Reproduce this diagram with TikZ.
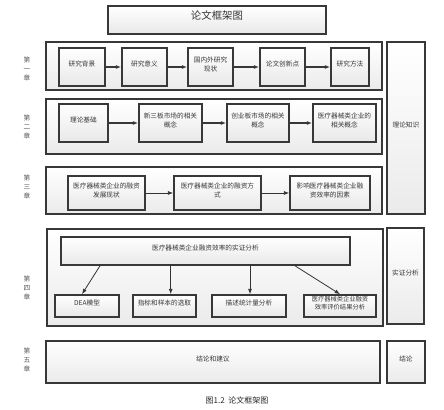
\documentclass[tikz,border=0pt]{standalone}
\usepackage{fontspec}
\newfontfamily\cjk{Noto Sans CJK SC}
\usetikzlibrary{fit,shadows,arrows.meta}
\begin{document}
\begin{tikzpicture}[x=0.75pt,y=-0.75pt,
  box/.style={draw=black!78, line width=1.2pt, top color=white, bottom color=black!9,
    drop shadow={shadow xshift=0.8pt,shadow yshift=-0.8pt,opacity=0.25},
    inner sep=0pt, align=center, font=\cjk\fontsize{5}{7}\selectfont, text=black!78},
  outer/.style={box, line width=1.6pt, top color=white, bottom color=black!8},
  tarrow/.style={-{Latex[length=4pt,width=3pt]}, line width=1.5pt, draw=black!78},
  narrow/.style={-{Latex[length=4pt,width=3pt]}, line width=0.6pt, draw=black!80},
  chap/.style={font=\cjk\fontsize{5}{6.5}\selectfont, text=black!65, align=center, inner sep=0pt}]
\useasboundingbox (0,0) rectangle (444,410);

% title
\node[box, font=\cjk\fontsize{7.8}{9}\selectfont, text=black!80, fit={(108,6)(326,34)}] (title) {论文框架图};

% right side boxes
\node[outer, line width=1.3pt, fit={(387,42)(425,214)}] (rk) {理论知识};
\node[outer, line width=1.3pt, fit={(387,228)(424,324)}] (rs) {实证分析};
\node[outer, line width=1.3pt, fit={(387,341)(425,383)}] (rj) {结论};

% chapter 1
\node[outer, fit={(46,42)(382,90)}] (c1) {};
\node[box, fit={(59,48)(105,86)}] (a1) {研究背景};
\node[box, fit={(122,48)(167,86)}] (a2) {研究意义};
\node[box, fit={(188,48)(233,86)}] (a3) {国内外研究\\现状};
\node[box, fit={(260,48)(305,86)}] (a4) {论文创新点};
\node[box, fit={(331,48)(369,86)}] (a5) {研究方法};
\draw[tarrow] (a1) -- (a2);
\draw[tarrow] (a2) -- (a3);
\draw[tarrow] (a3) -- (a4);
\draw[tarrow] (a4) -- (a5);

% chapter 2
\node[outer, fit={(46,99)(382,154)}] (c2) {};
\node[box, fit={(59,104)(108,142)}] (b1) {理论基础};
\node[box, fit={(139,104)(202,142)}] (b2) {新三板市场的相关\\概念};
\node[box, fit={(227,104)(289,142)}] (b3) {创业板市场的相关\\概念};
\node[box, fit={(313,104)(376,142)}] (b4) {医疗器械类企业的\\相关概念};
\draw[tarrow] (b1) -- (b2);
\draw[tarrow] (b2) -- (b3);
\draw[tarrow] (b3) -- (b4);

% chapter 3
\node[outer, fit={(46,167)(382,214)}] (c3) {};
\node[box, fit={(68,176)(145,210)}] (d1) {医疗器械类企业的融资\\发展现状};
\node[box, fit={(174,176)(261,210)}] (d2) {医疗器械类企业的融资方\\式};
\node[box, fit={(290,176)(370,210)}] (d3) {影响医疗器械类企业融\\资效率的因素};
\draw[narrow] (d1) -- (d2);
\draw[narrow] (d2) -- (d3);

% chapter 4
\node[outer, fit={(47,229)(383,326)}] (c4) {};
\node[box, fit={(61,237)(350,265)}] (e0) {医疗器械类企业融资效率的实证分析};
\node[box, fit={(55,295)(119,317)}] (e1) {DEA模型};
\node[box, fit={(133,295)(196,317)}] (e2) {指标和样本的选取};
\node[box, fit={(212,295)(286,317)}] (e3) {描述统计量分析};
\node[box, font=\cjk\fontsize{4.7}{6.3}\selectfont, fit={(304,295)(376,317)}] (e4) {医疗器械类企业融资\\效率评价结果分析};
\coordinate (s1) at (100,0);
\coordinate (s2) at (170.7,0);
\coordinate (s3) at (250,0);
\coordinate (s4) at (295,0);
\coordinate (t1) at (82,0);
\draw[narrow] (e0.south -| s1) -- (e1.north -| t1);
\draw[narrow] (e0.south -| s2) -- (e2.north -| s2);
\draw[narrow] (e0.south -| s3) -- (e3.north -| s3);
\draw[narrow] (e0.south -| s4) -- (e4.north);

% chapter 5
\node[outer, fit={(46,341)(380,383)}] (c5) {结论和建议};

% chapter labels
\node[chap] (l1) at (27,69) {第\\一\\章};
\node[chap] (l2) at (27,127) {第\\二\\章};
\node[chap] (l3) at (27,187) {第\\三\\章};
\node[chap] (l4) at (27,288) {第\\四\\章};
\node[chap] (l5) at (27,360) {第\\五\\章};

% caption
\node[font=\cjk\fontsize{6}{7}\selectfont, text=black!85, inner sep=0pt] (cap) at (237,400) {图1.2\ \ 论文框架图};
\end{tikzpicture}
\end{document}
